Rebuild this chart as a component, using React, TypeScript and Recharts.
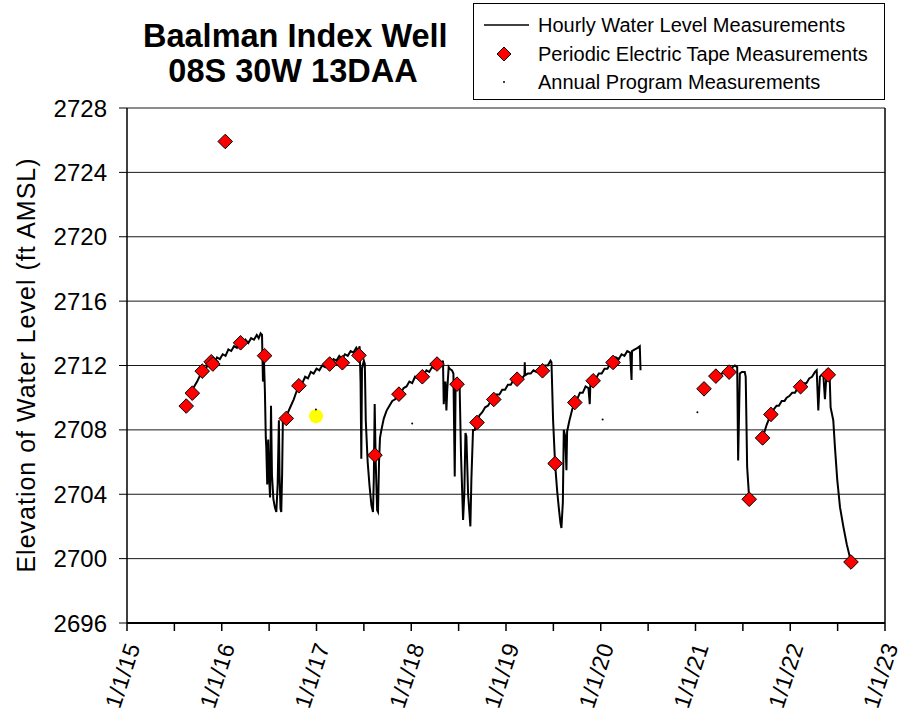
import React from 'react';
import { ComposedChart, Line, Scatter, XAxis, YAxis, CartesianGrid, ReferenceLine } from 'recharts';

// Hourly transducer record (decimal year, ft AMSL), one array per continuous segment
const hourlySeg1: [number, number][] = [
  [2015.70, 2710.6], [2015.74, 2711.0], [2015.78, 2711.5], [2015.81, 2711.7], [2015.84, 2711.9],
  [2015.87, 2712.1], [2015.90, 2712.3], [2015.92, 2712.1], [2015.95, 2712.5], [2015.98, 2712.4],
  [2016.01, 2712.7], [2016.04, 2712.6], [2016.07, 2713.0], [2016.10, 2712.9], [2016.13, 2713.2],
  [2016.16, 2713.1], [2016.19, 2713.4], [2016.22, 2713.3], [2016.25, 2713.6], [2016.28, 2713.4],
  [2016.31, 2713.7], [2016.34, 2713.6], [2016.37, 2713.9], [2016.39, 2713.7], [2016.41, 2714.0],
  [2016.425, 2713.9], [2016.435, 2711.0], [2016.445, 2712.4], [2016.455, 2710.5], [2016.465, 2707.5],
  [2016.47, 2706.9], [2016.48, 2704.6], [2016.49, 2707.4], [2016.50, 2705.0], [2016.51, 2703.8],
  [2016.52, 2709.5], [2016.53, 2705.2], [2016.545, 2703.7], [2016.56, 2703.2], [2016.576, 2702.9],
  [2016.59, 2704.6], [2016.603, 2708.6], [2016.61, 2705.2], [2016.62, 2703.1], [2016.628, 2702.9],
  [2016.637, 2705.2], [2016.645, 2708.6], [2016.66, 2708.5], [2016.68, 2708.8], [2016.70, 2709.1],
  [2016.73, 2709.5], [2016.76, 2709.9], [2016.79, 2710.4], [2016.82, 2710.8], [2016.85, 2710.9],
  [2016.88, 2711.3], [2016.91, 2711.2], [2016.94, 2711.6], [2016.97, 2711.5], [2017.00, 2711.8],
  [2017.03, 2711.7], [2017.06, 2712.0], [2017.09, 2711.9], [2017.12, 2712.2], [2017.15, 2712.1],
  [2017.18, 2712.4], [2017.21, 2712.3], [2017.24, 2712.6], [2017.27, 2712.4], [2017.30, 2712.7],
  [2017.33, 2712.6], [2017.36, 2712.9], [2017.39, 2712.8], [2017.42, 2713.1], [2017.44, 2712.9],
  [2017.455, 2713.2], [2017.465, 2711.0], [2017.473, 2706.2], [2017.48, 2711.8], [2017.50, 2712.3],
  [2017.51, 2712.1], [2017.52, 2708.6], [2017.54, 2706.0], [2017.56, 2704.5], [2017.58, 2703.3],
  [2017.596, 2702.9], [2017.605, 2705.0], [2017.614, 2709.6], [2017.625, 2706.0], [2017.64, 2703.0],
  [2017.649, 2702.9], [2017.66, 2706.0], [2017.67, 2707.5], [2017.685, 2708.0], [2017.71, 2708.7],
  [2017.74, 2709.2], [2017.77, 2709.5], [2017.80, 2709.8], [2017.83, 2709.9], [2017.86, 2710.2],
  [2017.89, 2710.3], [2017.92, 2710.6], [2017.95, 2710.7], [2017.98, 2711.0], [2018.01, 2710.9],
  [2018.04, 2711.3], [2018.07, 2711.2], [2018.10, 2711.5], [2018.13, 2711.4], [2018.16, 2711.7],
  [2018.19, 2711.6], [2018.22, 2711.9], [2018.25, 2711.8], [2018.28, 2712.1], [2018.31, 2712.0],
  [2018.335, 2712.3], [2018.343, 2709.6], [2018.36, 2711.0], [2018.371, 2709.2], [2018.38, 2710.5],
  [2018.395, 2711.9], [2018.406, 2711.8], [2018.43, 2711.7], [2018.445, 2711.5], [2018.459, 2705.1],
  [2018.468, 2710.6], [2018.483, 2710.8], [2018.50, 2710.8], [2018.511, 2710.6], [2018.525, 2706.5],
  [2018.547, 2702.4], [2018.56, 2704.0], [2018.572, 2707.8], [2018.582, 2707.6], [2018.60, 2704.0],
  [2018.624, 2702.0], [2018.635, 2705.0], [2018.652, 2708.0], [2018.67, 2708.0], [2018.694, 2708.5],
  [2018.72, 2708.9], [2018.75, 2709.1], [2018.78, 2709.4], [2018.81, 2709.5], [2018.84, 2709.8],
  [2018.87, 2709.9], [2018.90, 2710.2], [2018.93, 2710.2], [2018.96, 2710.5], [2018.99, 2710.5],
  [2019.02, 2710.8], [2019.05, 2710.8], [2019.08, 2711.1], [2019.11, 2711.0], [2019.14, 2711.3],
  [2019.17, 2711.2], [2019.195, 2711.4], [2019.198, 2712.2], [2019.202, 2711.4], [2019.23, 2711.5],
  [2019.26, 2711.5], [2019.29, 2711.7], [2019.32, 2711.6], [2019.35, 2711.8], [2019.38, 2711.8],
  [2019.41, 2712.0], [2019.44, 2712.0], [2019.47, 2712.3], [2019.48, 2712.2], [2019.497, 2708.6],
  [2019.518, 2705.9], [2019.54, 2704.2], [2019.56, 2703.0], [2019.575, 2702.2], [2019.585, 2701.9],
  [2019.60, 2703.5], [2019.61, 2708.0], [2019.625, 2707.6], [2019.638, 2705.5], [2019.645, 2707.9],
  [2019.67, 2708.6], [2019.70, 2709.3], [2019.726, 2709.7], [2019.75, 2709.9], [2019.78, 2710.3],
  [2019.81, 2710.3], [2019.84, 2710.7], [2019.87, 2710.6], [2019.884, 2709.6], [2019.89, 2710.8],
  [2019.92, 2711.1], [2019.95, 2711.2], [2019.98, 2711.5], [2020.01, 2711.5], [2020.04, 2711.8],
  [2020.07, 2711.8], [2020.10, 2712.1], [2020.13, 2712.2], [2020.16, 2712.5], [2020.19, 2712.4],
  [2020.22, 2712.7], [2020.25, 2712.6], [2020.28, 2712.9], [2020.31, 2712.8], [2020.325, 2711.1],
  [2020.33, 2712.9], [2020.36, 2713.0], [2020.39, 2713.1], [2020.412, 2713.2], [2020.42, 2711.7],
];

const hourlySeg2: [number, number][] = [
  [2021.215, 2711.4], [2021.28, 2711.5], [2021.355, 2711.6], [2021.39, 2711.9], [2021.416, 2712.0],
  [2021.44, 2711.9], [2021.45, 2706.1], [2021.468, 2711.5], [2021.49, 2711.6], [2021.52, 2711.6],
  [2021.53, 2711.3], [2021.545, 2705.7], [2021.567, 2703.7],
];

const hourlySeg3: [number, number][] = [
  [2021.708, 2707.5], [2021.75, 2708.3], [2021.796, 2709.0], [2021.83, 2709.3], [2021.856, 2709.5],
  [2021.88, 2709.5], [2021.91, 2709.8], [2021.94, 2709.8], [2021.962, 2710.0], [2021.99, 2710.1],
  [2022.02, 2710.3], [2022.05, 2710.3], [2022.08, 2710.6], [2022.109, 2710.7], [2022.14, 2710.9],
  [2022.17, 2710.9], [2022.20, 2711.2], [2022.23, 2711.3], [2022.261, 2711.6], [2022.279, 2711.7],
  [2022.296, 2709.2], [2022.313, 2711.3], [2022.33, 2711.4], [2022.348, 2711.5], [2022.366, 2709.9],
  [2022.384, 2711.6], [2022.401, 2711.4], [2022.415, 2711.5], [2022.426, 2709.4], [2022.454, 2708.6],
  [2022.472, 2706.9], [2022.496, 2704.9], [2022.525, 2703.2], [2022.56, 2702.0], [2022.596, 2700.9],
  [2022.641, 2699.8],
];

// Periodic electric tape measurements
const tapeDates = [
  2015.625, 2015.689, 2015.794, 2015.889, 2015.906, 2016.037, 2016.199, 2016.452, 2016.681, 2016.814,
  2017.139, 2017.273, 2017.448, 2017.617, 2017.870, 2018.117, 2018.272, 2018.483, 2018.694, 2018.871,
  2019.117, 2019.385, 2019.518, 2019.726, 2019.920, 2020.130, 2021.090, 2021.215, 2021.355, 2021.567,
  2021.708, 2021.796, 2022.109, 2022.401, 2022.641,
];
const tapeLevels = [
  2709.48, 2710.28, 2711.65, 2712.23, 2712.09, 2725.92, 2713.41, 2712.61, 2708.71, 2710.74,
  2712.09, 2712.17, 2712.63, 2706.43, 2710.22, 2711.30, 2712.09, 2710.84, 2708.46, 2709.89,
  2711.15, 2711.67, 2705.91, 2709.70, 2711.05, 2712.19, 2710.55, 2711.34, 2711.59, 2703.69,
  2707.50, 2708.96, 2710.68, 2711.42, 2699.79,
];

// Annual program measurements
const annualDates = [2016.994, 2018.01, 2020.02, 2021.02];
const annualLevels = [2709.27, 2708.4, 2708.65, 2709.1];

// Highlighted point
const highlightDates = [2016.995];
const highlightLevels = [2708.85];

const yTicks = [2696, 2700, 2704, 2708, 2712, 2716, 2720, 2724, 2728];
const xTicks = [2015, 2015.5, 2016, 2016.5, 2017, 2017.5, 2018, 2018.5, 2019, 2019.5, 2020, 2020.5, 2021, 2021.5, 2022, 2022.5, 2023];

const titleLines = ['Baalman Index Well', '08S 30W 13DAA'];
const legendLabels = ['Hourly Water Level Measurements', 'Periodic Electric Tape Measurements', 'Annual Program Measurements'];
const yLabel = 'Elevation of Water Level (ft AMSL)';

const toRows = (seg: [number, number][]) => seg.map(([t, v]) => ({ t, v }));
const hourlyData = [
  ...toRows(hourlySeg1),
  { t: 2020.8, v: null },
  ...toRows(hourlySeg2),
  { t: 2021.64, v: null },
  ...toRows(hourlySeg3),
];
const tapeData = tapeDates.map((t, i) => ({ t, v: tapeLevels[i] }));
const annualData = annualDates.map((t, i) => ({ t, v: annualLevels[i] }));
const highlightData = highlightDates.map((t, i) => ({ t, v: highlightLevels[i] }));

const FONT = 'Arial, "Liberation Sans", Helvetica, sans-serif';

const Diamond = (props: any) => {
  const { cx, cy } = props;
  if (cx == null || cy == null) return null;
  const r = 7.3;
  return (
    <path d={`M${cx},${cy - r} L${cx + r},${cy} L${cx},${cy + r} L${cx - r},${cy} Z`} fill="#FF0000" stroke="#000" strokeWidth={1} />
  );
};
const YellowDot = (props: any) => {
  const { cx, cy } = props;
  if (cx == null || cy == null) return null;
  return <circle cx={cx} cy={cy} r={7} fill="#FFFF00" />;
};
const TinyDot = (props: any) => {
  const { cx, cy } = props;
  if (cx == null || cy == null) return null;
  return <circle cx={cx} cy={cy} r={1} fill="#000" />;
};

const XTick = (props: any) => {
  const { x, y, payload } = props;
  const v = payload.value;
  if (!Number.isInteger(v)) return null;
  const label = `1/1/${v - 2000}`;
  const ax = x + 13.5;
  const ay = y + 13;
  return (
    <text x={ax} y={ay} transform={`rotate(-72, ${ax}, ${ay})`} textAnchor="end" fontSize={23} fontFamily={FONT} fill="#000" letterSpacing={0.5}>
      {label}
    </text>
  );
};

const YLabel = () => (
  <text x={35} y={365} transform="rotate(-90, 35, 365)" textAnchor="middle" fontSize={25} fontFamily={FONT} fill="#000" letterSpacing={1}>
    {yLabel}
  </text>
);

export default function App() {
  return (
    <div style={{ position: 'absolute', left: 0, top: 0, width: 903, height: 717, background: '#fff', fontFamily: FONT }}>
      <ComposedChart width={903} height={717} margin={{ top: 108, right: 18, bottom: 0, left: 0 }}>
        <CartesianGrid vertical={false} stroke="#000" strokeWidth={1} strokeOpacity={0.9} />
        <XAxis
          type="number"
          dataKey="t"
          domain={[2015, 2023]}
          ticks={xTicks}
          interval={0}
          allowDataOverflow
          height={94}
          tickSize={8}
          tick={<XTick />}
          axisLine={{ stroke: '#000', strokeWidth: 2 }}
          tickLine={{ stroke: '#000', strokeWidth: 1.5 }}
        />
        <YAxis
          type="number"
          dataKey="v"
          domain={[2696, 2728]}
          ticks={yTicks}
          interval={0}
          allowDataOverflow
          width={127}
          tickSize={8}
          tickMargin={12}
          tick={{ fontSize: 24, fill: '#000', fontFamily: FONT }}
          axisLine={{ stroke: '#000', strokeWidth: 1.5 }}
          tickLine={{ stroke: '#000', strokeWidth: 1 }}
          label={<YLabel />}
        />
        <ReferenceLine x={2023} stroke="#000" strokeWidth={1.5} />
        <Line
          data={hourlyData}
          dataKey="v"
          type="linear"
          stroke="#000"
          strokeWidth={2}
          dot={false}
          activeDot={false}
          connectNulls={false}
          isAnimationActive={false}
        />
        <Scatter data={highlightData} dataKey="v" shape={<YellowDot />} isAnimationActive={false} />
        <Scatter data={annualData} dataKey="v" shape={<TinyDot />} isAnimationActive={false} />
        <Scatter data={tapeData} dataKey="v" shape={<Diamond />} isAnimationActive={false} />
      </ComposedChart>

      <div style={{ position: 'absolute', left: 143, top: 19, width: 300, textAlign: 'center', fontWeight: 'bold', fontSize: 32.5, lineHeight: '35px', color: '#000' }}>
        {titleLines.map((l) => (
          <div key={l} style={{ whiteSpace: 'nowrap' }}>{l}</div>
        ))}
      </div>

      <div style={{ position: 'absolute', left: 473, top: 3, width: 410, height: 95, border: '1px solid #000', background: '#fff' }}>
        {legendLabels.map((label, i) => (
          <div key={label} style={{ position: 'absolute', left: 0, top: 7 + i * 28.5, height: 28, width: 410 }}>
            <svg width={60} height={28} style={{ position: 'absolute', left: 0, top: 0 }}>
              {i === 0 && <line x1={10} x2={55} y1={14} y2={14} stroke="#000" strokeWidth={1.5} />}
              {i === 1 && <path d="M30,7 L37,14 L30,21 L23,14 Z" fill="#FF0000" stroke="#000" strokeWidth={1} />}
              {i === 2 && <circle cx={30} cy={14} r={1} fill="#000" />}
            </svg>
            <span style={{ position: 'absolute', left: 64, top: 0, lineHeight: '28px', fontSize: 20, whiteSpace: 'nowrap', color: '#000' }}>{label}</span>
          </div>
        ))}
      </div>
    </div>
  );
}
